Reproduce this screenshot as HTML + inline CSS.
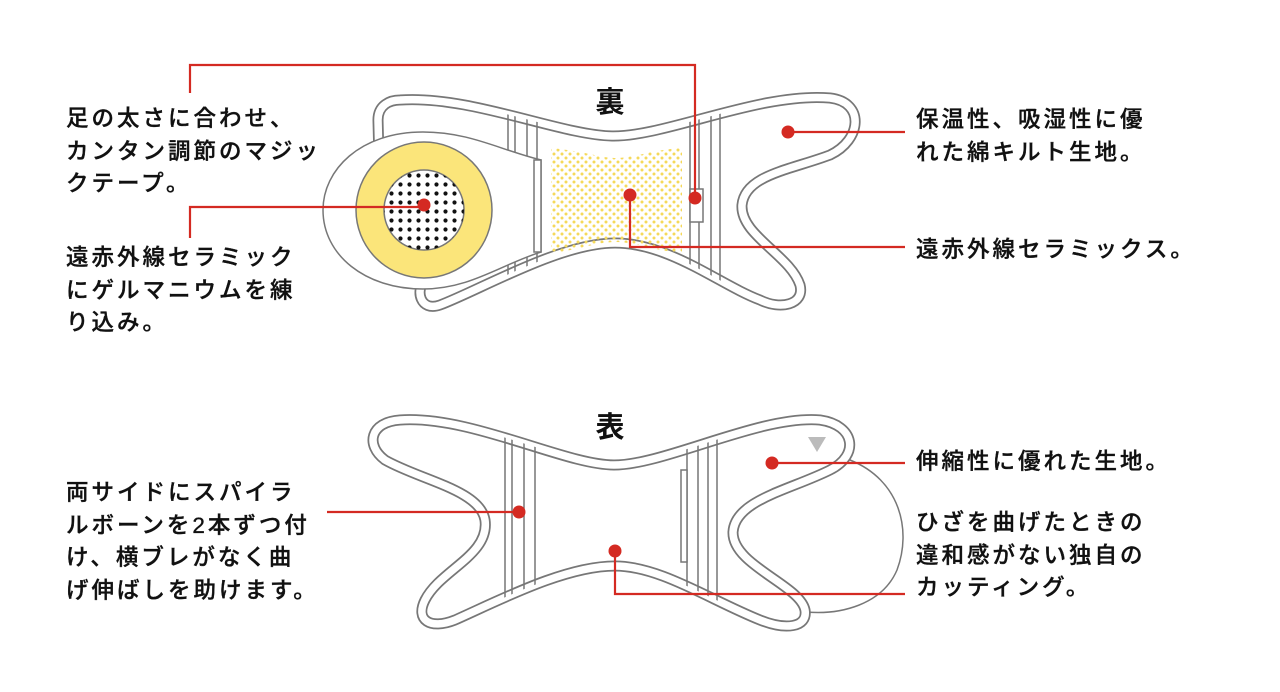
<!DOCTYPE html>
<html><head><meta charset="utf-8"><style>
body{margin:0;background:#fff;}
.wrap{position:relative;width:1280px;height:692px;overflow:hidden;font-family:"Liberation Sans","Noto Sans CJK JP",sans-serif;}
.t{position:absolute;font-size:22.5px;line-height:32.5px;letter-spacing:3px;color:#111;font-weight:500;white-space:nowrap;-webkit-text-stroke:0.35px #111;}
</style></head><body><div class="wrap">
<svg width="1280" height="692" viewBox="0 0 1280 692" style="position:absolute;left:0;top:0">
<defs>
<pattern id="bd" width="9" height="9" patternUnits="userSpaceOnUse"><circle cx="4.5" cy="4.5" r="2.1" fill="#111"/></pattern>
<pattern id="yd" width="8" height="8" patternUnits="userSpaceOnUse"><circle cx="2" cy="2" r="1.5" fill="#f5d95a"/><circle cx="6" cy="6" r="1.5" fill="#f5d95a"/></pattern>
<path id="p1" d="M400,100 C470,95 560,135 612,136 C665,137 760,92 830,98 C865,102 862,140 830,155 C790,170 745,175 742,205 C740,235 790,255 800,285 C805,305 780,310 760,300 C720,285 670,243 615,243 C560,243 480,290 440,305 C420,312 415,290 425,280 L380,200 L378,120 C378,105 390,100 400,100Z"/>
<path id="p2" d="M400,420 C470,415 565,465 614,465 C665,465 760,415 820,420 C855,425 860,455 830,470 C790,490 735,500 733,532 C732,565 800,585 805,610 C808,628 785,630 760,620 C710,600 660,566 615,566 C565,566 500,600 455,620 C430,630 415,620 425,600 C440,570 490,555 485,520 C480,490 420,480 385,460 C365,445 370,422 400,420Z"/>
<clipPath id="c1"><use href="#p1"/></clipPath>
<clipPath id="c2"><use href="#p2"/></clipPath>
</defs>
<use href="#p1" stroke="#777" stroke-width="11" fill="#fff" stroke-linejoin="round"/>
<use href="#p1" stroke="#fff" stroke-width="7.5" fill="none" stroke-linejoin="round"/>
<g clip-path="url(#c1)" stroke="#777" stroke-width="1.5">
<line x1="508" y1="90" x2="508" y2="320"/><line x1="515" y1="90" x2="515" y2="320"/><line x1="527" y1="90" x2="527" y2="320"/><line x1="537" y1="90" x2="537" y2="320"/>
<line x1="690" y1="90" x2="690" y2="320"/><line x1="699" y1="90" x2="699" y2="320"/><line x1="711" y1="90" x2="711" y2="320"/><line x1="720" y1="90" x2="720" y2="320"/>
</g>
<path d="M551,148 C590,152 600,158 616,158 C635,158 650,150 682,148 L682,253 C650,250 635,242 616,242 C595,242 580,250 551,253Z" fill="url(#yd)"/>
<rect x="690" y="189" width="13" height="33" fill="#fff" stroke="#777" stroke-width="1.5"/>
<path d="M541,160 C500,150 470,132 423,132 C360,132 323,170 323,210 C323,255 365,289 423,289 C470,289 500,265 541,252Z" fill="#fff" stroke="#777" stroke-width="1.5"/>
<rect x="534" y="160" width="7" height="92" fill="#fff" stroke="#777" stroke-width="1.5"/>
<circle cx="424" cy="210" r="68" fill="#fbe57a" stroke="#777" stroke-width="1.5"/>
<circle cx="424" cy="210" r="40" fill="#fff" stroke="#777" stroke-width="1.5"/>
<circle cx="424" cy="210" r="40" fill="url(#bd)"/>
<text x="610" y="112" font-size="29" font-weight="bold" text-anchor="middle" font-family="Liberation Sans,Noto Sans CJK JP,sans-serif" fill="#111">裏</text>
<path d="M850,460 C900,480 912,530 897,570 C882,605 840,615 806,612" fill="#fff" stroke="#777" stroke-width="1.5"/>
<use href="#p2" stroke="#777" stroke-width="11" fill="#fff" stroke-linejoin="round"/>
<use href="#p2" stroke="#fff" stroke-width="7.5" fill="none" stroke-linejoin="round"/>
<g clip-path="url(#c2)" stroke="#777" stroke-width="1.5">
<line x1="505" y1="410" x2="505" y2="640"/><line x1="512" y1="410" x2="512" y2="640"/><line x1="524" y1="410" x2="524" y2="640"/><line x1="535" y1="410" x2="535" y2="640"/>
<line x1="687" y1="410" x2="687" y2="640"/><line x1="698" y1="410" x2="698" y2="640"/><line x1="708" y1="410" x2="708" y2="640"/><line x1="717" y1="410" x2="717" y2="640"/>
</g>
<rect x="681" y="470" width="6" height="92" fill="#fff" stroke="#777" stroke-width="1.5"/>
<path d="M808,437 L826,437 L817,452Z" fill="#bbb"/>
<text x="610" y="437" font-size="29" font-weight="bold" text-anchor="middle" font-family="Liberation Sans,Noto Sans CJK JP,sans-serif" fill="#111">表</text>
<g stroke="#d42a22" stroke-width="2.2" fill="none">
<polyline points="190,93 190,65 695,65 695,198"/>
<polyline points="190,238 190,207 424,207"/>
<line x1="788" y1="132" x2="905" y2="132"/>
<polyline points="630,195 630,247 905,247"/>
<line x1="327" y1="512" x2="519" y2="512"/>
<polyline points="615,551 615,594 905,594"/>
<line x1="772" y1="463" x2="905" y2="463"/>
</g>
<g fill="#d42a22">
<circle cx="695" cy="198" r="6.5"/><circle cx="424" cy="205" r="6.5"/><circle cx="788" cy="132" r="6.5"/><circle cx="630" cy="195" r="6.5"/>
<circle cx="519" cy="512" r="6.5"/><circle cx="615" cy="551" r="6.5"/><circle cx="772" cy="463" r="6.5"/>
</g>
</svg>
<div class="t" style="left:66px;top:103px">足の太さに合わせ、<br>カンタン調節のマジッ<br>クテープ。</div>
<div class="t" style="left:66px;top:242px">遠赤外線セラミック<br>にゲルマニウムを練<br>り込み。</div>
<div class="t" style="left:916px;top:104px">保温性、吸湿性に優<br>れた綿キルト生地。</div>
<div class="t" style="left:916px;top:234px">遠赤外線セラミックス。</div>
<div class="t" style="left:66px;top:477px">両サイドにスパイラ<br>ルボーンを2本ずつ付<br>け、横ブレがなく曲<br>げ伸ばしを助けます。</div>
<div class="t" style="left:916px;top:446px">伸縮性に優れた生地。</div>
<div class="t" style="left:916px;top:507px">ひざを曲げたときの<br>違和感がない独自の<br>カッティング。</div>
</div></body></html>
